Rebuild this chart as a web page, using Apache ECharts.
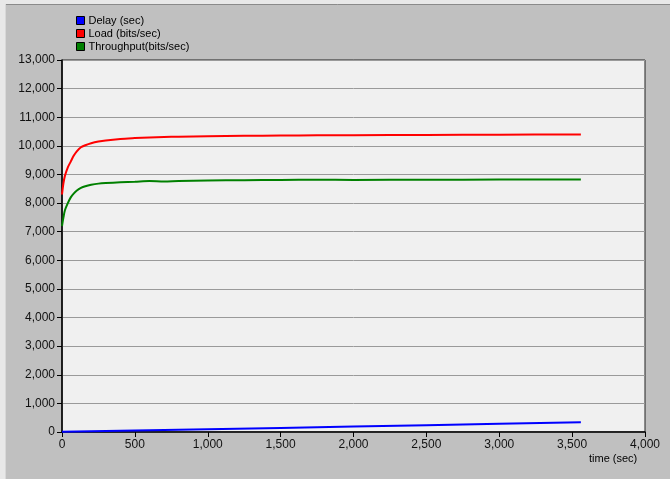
<!DOCTYPE html>
<html>
<head>
<meta charset="utf-8">
<script src="https://cdn.jsdelivr.net/npm/echarts@6/dist/echarts.min.js"></script>
<style>
  html, body { margin: 0; padding: 0; background: #e8e8e8; }
  #main { width: 670px; height: 479px; }
</style>
</head>
<body>
<div id="main"></div>
<script>
// values
var seriesNames = ['Delay (sec)', 'Load (bits/sec)', 'Throughput(bits/sec)'];
var seriesColors = ['#0000ff', '#ff0000', '#008000'];

var delayTime = [0, 500, 1000, 1500, 2000, 2500, 3000, 3560];
var delayValues = [5, 50, 95, 143, 190, 238, 285, 338];

var time = [0, 10, 20, 40, 60, 80, 100, 130, 160, 200, 250, 300, 400, 500, 600, 700, 800, 1000, 1250, 1500, 1750, 2000, 2500, 3000, 3560];
var loadValues = [8300, 8700, 8950, 9250, 9450, 9650, 9800, 9950, 10020, 10090, 10150, 10190, 10240, 10270, 10295, 10310, 10320, 10335, 10350, 10360, 10368, 10373, 10383, 10390, 10395];
var throughputValues = [7200, 7500, 7750, 8000, 8200, 8330, 8430, 8530, 8590, 8640, 8680, 8700, 8725, 8745, 8770, 8755, 8775, 8790, 8800, 8810, 8815, 8810, 8815, 8820, 8825];

var xTicks = {min: 0, max: 4000, interval: 500};
var yTicks = {min: 0, max: 13000, interval: 1000};

function zip(xs, ys) {
    var out = [];
    for (var i = 0; i < xs.length; i++) out.push([xs[i], ys[i]]);
    return out;
}
function commas(v) {
    return String(v).replace(/\B(?=(\d{3})+(?!\d))/g, ',');
}

var myChart = echarts.init(document.getElementById('main'));

var option = {
    animation: false,
    backgroundColor: '#c0c0c0',
    textStyle: { fontFamily: 'Liberation Sans', color: '#000' },
    graphic: [
        { type: 'rect', shape: { x: 0, y: 0, width: 670, height: 4 }, style: { fill: '#e8e8e8' } },
        { type: 'rect', shape: { x: 0, y: 0, width: 5, height: 479 }, style: { fill: '#e8e8e8' } },
        { type: 'line', shape: { x1: 5, y1: 4.5, x2: 670, y2: 4.5 }, style: { stroke: '#8a8a8a', lineWidth: 1 } },
        { type: 'line', shape: { x1: 5.5, y1: 4, x2: 5.5, y2: 479 }, style: { stroke: '#d8d8d8', lineWidth: 1 } },
        { type: 'text', left: 589, top: 453, style: { text: 'time (sec)', font: '11px "Liberation Sans"', fill: '#000' } }
    ],
    legend: {
        orient: 'vertical',
        left: 71,
        top: 10,
        itemGap: 2,
        itemWidth: 8,
        itemHeight: 8,
        icon: 'rect',
        data: seriesNames,
        itemStyle: { borderColor: '#000', borderWidth: 1 },
        textStyle: { fontSize: 11, fontFamily: 'Liberation Sans', color: '#000', padding: [0, 0, 0, -1] }
    },
    grid: {
        left: 62,
        right: 25,
        top: 60,
        bottom: 47,
        show: true,
        backgroundColor: '#f0f0f0',
        borderColor: '#222',
        borderWidth: 1
    },
    xAxis: {
        type: 'value',
        min: xTicks.min,
        max: xTicks.max,
        interval: xTicks.interval,
        axisLine: { show: true, lineStyle: { color: '#000', width: 1.5 } },
        axisTick: { show: true, length: 5, lineStyle: { color: '#000' } },
        splitLine: { show: false },
        axisLabel: { fontSize: 12, color: '#111', margin: 7, formatter: commas }
    },
    yAxis: {
        type: 'value',
        min: yTicks.min,
        max: yTicks.max,
        interval: yTicks.interval,
        axisLine: { show: true, lineStyle: { color: '#000', width: 1.5 } },
        axisTick: { show: true, length: 5, lineStyle: { color: '#000' } },
        splitLine: { show: true, lineStyle: { color: '#9a9a9a', width: 1 } },
        axisLabel: { fontSize: 12, color: '#111', margin: 7, formatter: commas }
    },
    series: [
        {
            name: seriesNames[0],
            type: 'line',
            showSymbol: false,
            color: seriesColors[0],
            lineStyle: { width: 2 },
            data: zip(delayTime, delayValues)
        },
        {
            name: seriesNames[1],
            type: 'line',
            showSymbol: false,
            smooth: 0.3,
            color: seriesColors[1],
            lineStyle: { width: 2 },
            data: zip(time, loadValues)
        },
        {
            name: seriesNames[2],
            type: 'line',
            showSymbol: false,
            smooth: 0.3,
            color: seriesColors[2],
            lineStyle: { width: 2 },
            data: zip(time, throughputValues)
        }
    ]
};

myChart.setOption(option);
</script>
</body>
</html>
